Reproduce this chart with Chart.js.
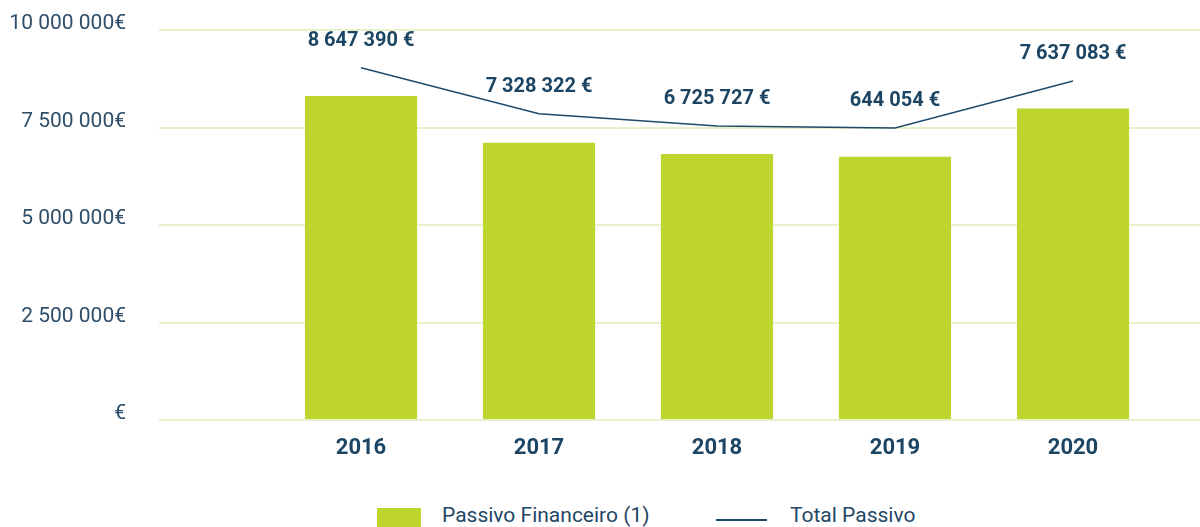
<!DOCTYPE html>
<html>
<head>
<meta charset="utf-8">
<script src="https://cdn.jsdelivr.net/npm/chart.js@4.4.0/dist/chart.umd.min.js"></script>
<style>
  body { margin: 0; background: #fff; width: 1200px; height: 527px; overflow: hidden; position: relative; font-family: Roboto, sans-serif; }
  .wrap { position: absolute; left: 0; top: 0; width: 1200px; height: 480px; }
  .lg { position: absolute; top: 503px; height: 24px; line-height: 24px; font-size: 21px; color: #1f4766; white-space: nowrap; }
  .box { position: absolute; left: 377px; top: 508px; width: 44px; height: 22px; background: #bed530; }
  .ln { position: absolute; left: 716px; top: 519px; width: 51px; height: 2px; background: #1f4a69; }
</style>
</head>
<body>
<div class="wrap"><canvas id="chart"></canvas></div>
<div class="box"></div>
<div class="lg" style="left:442px">Passivo Financeiro (1)</div>
<div class="ln"></div>
<div class="lg" style="left:790px">Total Passivo</div>
<script>
const years = ["2016", "2017", "2018", "2019", "2020"];
const passivoFinanceiro = [8310000, 7110000, 6820000, 6750000, 7990000];
const totalPassivo = [9030000, 7850000, 7540000, 7490000, 8690000];
const totalLabels = ["8 647 390 €", "7 328 322 €", "6 725 727 €", "644 054 €", "7 637 083 €"];
const yTicks = ["€", "2 500 000€", "5 000 000€", "7 500 000€", "10 000 000€"];

const gridColor = "#e8f0c9";

// labels over the line points
const pointLabels = {
  id: "pointLabels",
  afterDatasetsDraw(chart) {
    const meta = chart.getDatasetMeta(1);
    const c = chart.ctx;
    c.save();
    c.font = "bold 20px Roboto";
    c.fillStyle = "#1c4564";
    c.textAlign = "center";
    c.textBaseline = "middle";
    meta.data.forEach((p, i) => c.fillText(totalLabels[i], p.x, p.y - 27));
    c.restore();
  }
};

new Chart(document.getElementById("chart"), {
  type: "bar",
  data: {
    labels: years,
    datasets: [
      {
        label: "Passivo Financeiro (1)",
        data: passivoFinanceiro,
        backgroundColor: "#bed530",
        barPercentage: 0.63,
        categoryPercentage: 1,
        order: 2,
      },
      {
        type: "line",
        label: "Total Passivo",
        data: totalPassivo,
        borderColor: "#1f4a69",
        borderWidth: 1.5,
        pointRadius: 0,
        tension: 0,
        order: 1,
      },
    ],
  },
  options: {
    responsive: true,
    maintainAspectRatio: false,
    animation: false,
    layout: { padding: { top: 30, left: 0, right: 0, bottom: 0 } },
    plugins: { legend: { display: false }, tooltip: { enabled: false } },
    scales: {
      x: {
        grid: { display: false },
        border: { display: false },
        ticks: { color: "#1c4564", font: { family: "Roboto", size: 22, weight: "bold" }, padding: 7 },
        afterFit(s) { s.height = 60; },
      },
      y: {
        position: "left",
        min: 0,
        max: 10000000,
        ticks: {
          stepSize: 2500000,
          callback: (v, i) => yTicks[i],
          color: "#2f4e69",
          font: { family: "Roboto", size: 21 },
          padding: 33,
          labelOffset: -6,
        },
        grid: { color: gridColor, lineWidth: 2, drawTicks: true, tickLength: 113 },
        border: { display: false },
        afterFit(s) { s.width = 272; s.paddingTop = 0; s.paddingBottom = 0; },
      },
      y2: {
        position: "right",
        min: 0,
        max: 10000000,
        ticks: { display: false, stepSize: 2500000 },
        grid: { color: gridColor, lineWidth: 2, drawOnChartArea: false, drawTicks: true, tickLength: 38 },
        border: { display: false },
        afterFit(s) { s.width = 38; s.paddingTop = 0; s.paddingBottom = 0; },
      },
    },
  },
  plugins: [pointLabels],
});
</script>
</body>
</html>
